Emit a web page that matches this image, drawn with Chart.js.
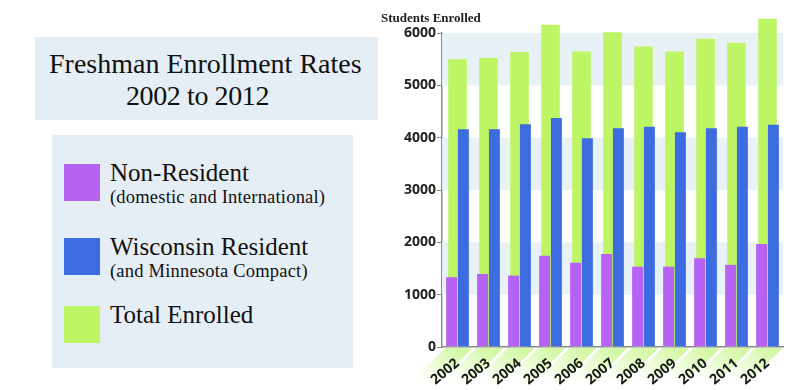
<!DOCTYPE html>
<html>
<head>
<meta charset="utf-8">
<script src="https://cdn.jsdelivr.net/npm/chart.js"></script>
<style>
  html, body { margin: 0; padding: 0; background: #fff; }
  #wrap { position: relative; width: 800px; height: 390px; overflow: hidden; }
  #chart { position: absolute; left: 0; top: 0; }
  .box { position: absolute; background: #e5eef4; font-family: "Liberation Serif", serif; color: #111; }
  #titleBox { left: 35px; top: 37px; width: 343px; height: 83px; }
  #titleBox .l1 { position: absolute; left: 14px; top: 11px; font-size: 28px; }
  #titleBox .l2 { position: absolute; left: 91px; top: 43px; font-size: 28px; letter-spacing: -0.4px; }
  #legendBox { left: 52px; top: 135px; width: 301px; height: 233px; }
  .sw { position: absolute; left: 12px; width: 36px; height: 37px; }
  .big { position: absolute; left: 58px; font-size: 25px; }
  .small { position: absolute; left: 58px; font-size: 18.5px; letter-spacing: 0.2px; }
</style>
</head>
<body>
<div id="wrap">
  <canvas id="chart" width="800" height="390"></canvas>
  <div class="box" id="titleBox">
    <div class="l1">Freshman Enrollment Rates</div>
    <div class="l2">2002 to 2012</div>
  </div>
  <div class="box" id="legendBox">
    <div class="sw" style="top:29px;background:#b662f2"></div>
    <div class="big" style="top:24px">Non-Resident</div>
    <div class="small" style="top:52px">(domestic and International)</div>
    <div class="sw" style="top:103px;background:#3c6ce0"></div>
    <div class="big" style="top:98px">Wisconsin Resident</div>
    <div class="small" style="top:126px">(and Minnesota Compact)</div>
    <div class="sw" style="top:171px;background:#bdf565"></div>
    <div class="big" style="top:166px">Total Enrolled</div>
  </div>
</div>
<script>
// years on the x axis
const years = ["2002", "2003", "2004", "2005", "2006", "2007", "2008", "2009", "2010", "2011", "2012"];

// freshman counts
const totalEnrolled = [5500, 5520, 5635, 6160, 5645, 6015, 5740, 5645, 5890, 5815, 6270];
const wisconsinResident = [4160, 4160, 4255, 4375, 3990, 4180, 4210, 4105, 4180, 4210, 4245];
const nonResident = [1335, 1395, 1365, 1745, 1610, 1775, 1535, 1535, 1695, 1570, 1970];

const yTicks = [0, 1000, 2000, 3000, 4000, 5000, 6000];

const purple = "#b662f2";
const blue = "#3c6ce0";
const green = "#bdf565";

// light blue bands, green strips under the years, axis caption
const backdrop = {
  id: "backdrop",
  beforeDatasetsDraw(chart) {
    const { ctx, chartArea, scales } = chart;
    const y = scales.y;
    ctx.save();
    ctx.fillStyle = "#e8f1f6";
    for (let i = yTicks.length - 1; i > 0; i -= 2) {
      const top = y.getPixelForValue(yTicks[i]);
      const bot = y.getPixelForValue(yTicks[i - 1]);
      ctx.fillRect(chartArea.left, top, chartArea.right - chartArea.left, bot - top);
    }
    ctx.restore();
  },
  beforeDraw(chart) {
    const { ctx, chartArea, scales } = chart;
    const x = scales.x;
    const base = chartArea.bottom + 1;
    const d = 34;
    ctx.save();
    years.forEach((yr, i) => {
      const c = x.getPixelForValue(i);
      const g = ctx.createLinearGradient(c, base, c - d, base + d);
      g.addColorStop(0, "rgba(200,246,140,0.8)");
      g.addColorStop(1, "rgba(200,246,140,0)");
      ctx.fillStyle = g;
      ctx.beginPath();
      ctx.moveTo(c - 12, base);
      ctx.lineTo(c + 15, base);
      ctx.lineTo(c + 15 - d, base + d);
      ctx.lineTo(c - 12 - d, base + d);
      ctx.closePath();
      ctx.fill();
    });
    ctx.restore();
  },
  afterDraw(chart) {
    const { ctx, chartArea } = chart;
    ctx.save();
    ctx.font = "bold 13px 'Liberation Serif', serif";
    ctx.fillStyle = "#222";
    ctx.fillText("Students Enrolled", chartArea.left - 61, chartArea.top - 11);
    ctx.restore();
  }
};

new Chart("chart", {
  type: "bar",
  data: {
    labels: years,
    datasets: [
      {
        label: "Total Enrolled",
        data: totalEnrolled,
        backgroundColor: green,
        grouped: false,
        barPercentage: 0.75,
        order: 2,
        clip: false
      },
      {
        label: "Non-Resident",
        data: nonResident,
        backgroundColor: purple,
        categoryPercentage: 0.76,
        barPercentage: 0.93,
        order: 1
      },
      {
        label: "Wisconsin Resident",
        data: wisconsinResident,
        backgroundColor: blue,
        categoryPercentage: 0.76,
        barPercentage: 0.93,
        order: 1
      }
    ]
  },
  options: {
    responsive: false,
    animation: false,
    layout: { padding: { left: 382, right: 17, top: 33, bottom: 0 } },
    plugins: {
      legend: { display: false },
      tooltip: { enabled: false }
    },
    scales: {
      x: {
        offset: true,
        grid: { display: false },
        border: { display: true, color: "#8a8a8a", width: 1.5 },
        ticks: {
          minRotation: 40,
          maxRotation: 40,
          padding: 0,
          color: "#1a1a1a",
          font: { family: "'Open Sans', sans-serif", size: 14, weight: "bold" }
        },
        afterFit(scale) { scale.height = 43; }
      },
      y: {
        min: 0,
        max: 6000,
        afterBuildTicks(scale) { scale.ticks = yTicks.map((v) => ({ value: v })); },
        grid: { drawOnChartArea: false, drawTicks: true, tickLength: 5, color: "#8a8a8a" },
        border: { display: true, color: "#8a8a8a", width: 1.5 },
        ticks: {
          padding: 1,
          color: "#222",
          callback: (v) => String(v),
          font: { family: "'Open Sans', sans-serif", size: 14, weight: "bold" }
        },
        afterFit(scale) { scale.width = 60; }
      }
    }
  },
  plugins: [backdrop]
});
</script>
</body>
</html>
